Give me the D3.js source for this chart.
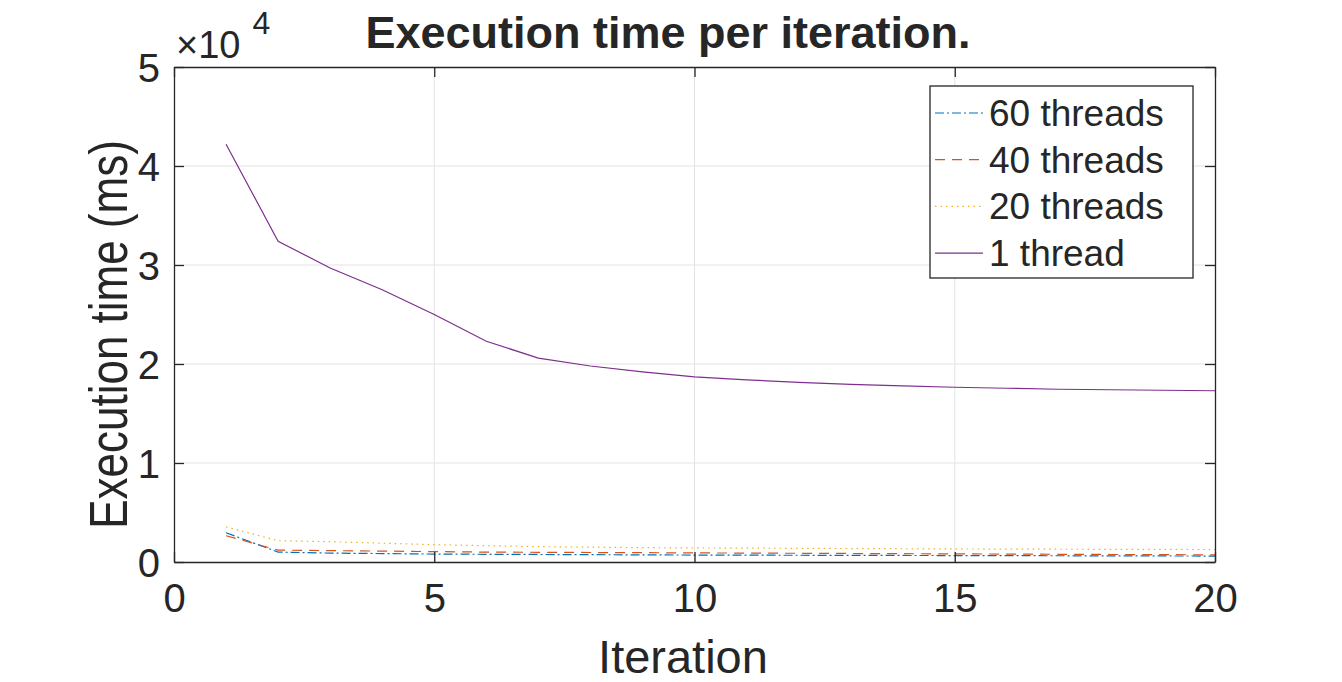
<!DOCTYPE html>
<html>
<head>
<meta charset="utf-8">
<script src="https://cdn.jsdelivr.net/npm/d3@7/dist/d3.min.js"></script>
<style>
  html, body { margin: 0; padding: 0; background: #fff; }
  svg { display: block; }
  text { font-family: "Liberation Sans", Arial, Helvetica, sans-serif; fill: #262626; }
</style>
</head>
<body>
<svg id="chart" width="1342" height="682"></svg>
<script>
const iterations = [1,2,3,4,5,6,7,8,9,10,11,12,13,14,15,16,17,18,19,20];
const threads60 = [2950,1000,900,850,800,780,760,740,720,700,690,680,670,660,650,640,630,620,610,600];
const threads40 = [2650,1200,1150,1100,1050,1000,980,960,940,920,900,880,860,840,820,800,780,760,740,720];
const threads20 = [3550,2150,2050,1900,1750,1650,1550,1500,1450,1420,1400,1380,1360,1340,1320,1300,1290,1280,1270,1260];
const thread1 = [42200,32400,29700,27500,25000,22300,20600,19800,19200,18700,18400,18150,17950,17800,17650,17550,17450,17400,17350,17300];
const seriesNames = ["60 threads","40 threads","20 threads","1 thread"];
const xTicks = [0,5,10,15,20];
const yTicks = [0,10000,20000,30000,40000,50000];
const yTickLabels = ["0","1","2","3","4","5"];

const colors = ["#0072BD","#D95319","#EDB120","#7E2F8E"];
const dashes = ["9,3,2,3","10,7","1.5,4",null];
const seriesValues = [threads60, threads40, threads20, thread1];

const svg = d3.select("#chart");
const L = 174, R = 1215, T = 67, B = 562;
const x = d3.scaleLinear().domain([0,20]).range([L,R]);
const y = d3.scaleLinear().domain([0,50000]).range([B,T]);
const axisColor = "#262626";

// grid
const grid = svg.append("g");
grid.selectAll("line.gx").data(xTicks.slice(1,-1)).enter().append("line")
  .attr("x1", d=>x(d)).attr("x2", d=>x(d)).attr("y1",T).attr("y2",B)
  .attr("stroke","#e3e3e3").attr("stroke-width",1);
grid.selectAll("line.gy").data(yTicks.slice(1,-1)).enter().append("line")
  .attr("x1",L).attr("x2",R).attr("y1", d=>y(d)).attr("y2", d=>y(d))
  .attr("stroke","#e3e3e3").attr("stroke-width",1);

// lines
const line = d3.line().x((d,i)=>x(iterations[i])).y(d=>y(d));
seriesValues.forEach((vals,i)=>{
  svg.append("path").datum(vals).attr("d", line)
    .attr("fill","none").attr("stroke", colors[i]).attr("stroke-width", 1.2)
    .attr("stroke-dasharray", dashes[i]);
});

// axes
const axB = svg.append("g").attr("transform",`translate(0,${B})`)
  .call(d3.axisBottom(x).tickValues(xTicks).tickSizeInner(-10).tickSizeOuter(0).tickPadding(22));
const axT = svg.append("g").attr("transform",`translate(0,${T})`)
  .call(d3.axisTop(x).tickValues(xTicks).tickSizeInner(-10).tickSizeOuter(0).tickFormat(""));
const axL = svg.append("g").attr("transform",`translate(${L},0)`)
  .call(d3.axisLeft(y).tickValues(yTicks).tickSizeInner(-10).tickSizeOuter(0).tickPadding(14)
    .tickFormat((d,i)=>yTickLabels[i]));
const axR = svg.append("g").attr("transform",`translate(${R},0)`)
  .call(d3.axisRight(y).tickValues(yTicks).tickSizeInner(-10).tickSizeOuter(0).tickFormat(""));
[axB,axT,axL,axR].forEach(g=>{
  g.select(".domain").attr("stroke",axisColor).attr("stroke-width",1.3);
  g.selectAll(".tick line").attr("stroke",axisColor).attr("stroke-width",1.3);
  g.selectAll(".tick text").style("font-family",'"Liberation Sans", Arial, sans-serif')
    .style("font-size","40px").attr("fill",axisColor);
});
axB.selectAll(".tick text").attr("dy","0.71em");
axL.selectAll(".tick text").attr("dy","0.35em");

// exponent
const ex = svg.append("text").attr("x",176).attr("y",58).style("font-size","38px");
ex.append("tspan").text("\u00d710");
ex.append("tspan").attr("dx",12).attr("dy",-24).style("font-size","32px").text("4");

// title
svg.append("text").attr("x",668).attr("y",48).attr("text-anchor","middle")
  .style("font-size","45px").style("font-weight","bold").attr("fill","#000")
  .text("Execution time per iteration.");

// axis labels
svg.append("text").attr("x",683).attr("y",673).attr("text-anchor","middle")
  .style("font-size","47px").text("Iteration");
svg.append("text").attr("transform",`translate(127,${(T+B)/2 + 20}) rotate(-90) scale(1,1.2)`)
  .attr("text-anchor","middle").style("font-size","44px").text("Execution time (ms)");

// legend
const lg = svg.append("g");
lg.append("rect").attr("x",930).attr("y",86).attr("width",263).attr("height",192)
  .attr("fill","#fff").attr("stroke",axisColor).attr("stroke-width",1.3);
seriesNames.forEach((name,i)=>{
  const cy = 113 + i*46.7;
  lg.append("line").attr("x1",935).attr("x2",983).attr("y1",cy).attr("y2",cy)
    .attr("stroke",colors[i]).attr("stroke-width",1.2).attr("stroke-dasharray",dashes[i]);
  lg.append("text").attr("x",989).attr("y",cy).attr("dy","0.35em")
    .style("font-size","37px").attr("fill","#000").text(name);
});
</script>
</body>
</html>
